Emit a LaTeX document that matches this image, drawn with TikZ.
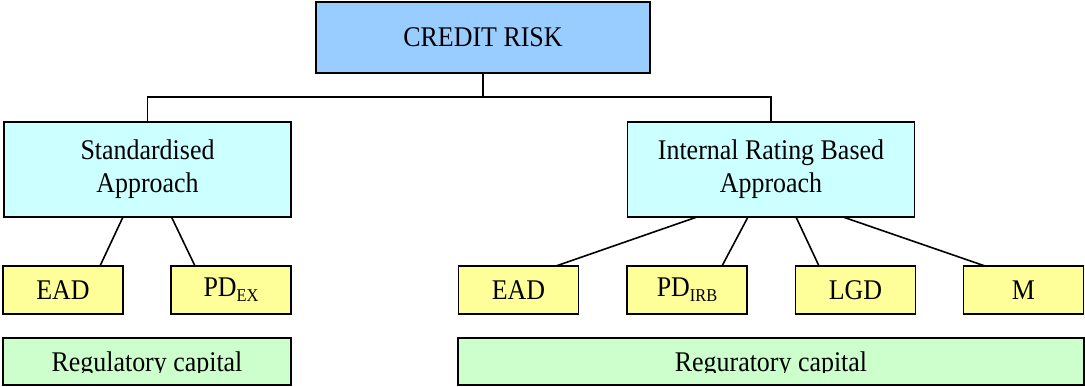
\documentclass[tikz,border=0pt]{standalone}
\usepackage{fontspec}
\setmainfont{Liberation Serif}[FakeStretch=0.91]
\definecolor{topblue}{HTML}{99CCFF}
\definecolor{midcyan}{HTML}{CCFFFF}
\definecolor{leafyellow}{HTML}{FFFF99}
\definecolor{capgreen}{HTML}{CCFFCC}
\newcommand{\subtxt}[1]{\raisebox{-0.18em}{\fontsize{18}{18}\selectfont #1}}
\begin{document}
\begin{tikzpicture}[x=1pt,y=-1pt,
  box/.style={draw=black,line width=1.7pt,inner sep=0pt,outer sep=0pt,align=center,
    font=\fontsize{28.5}{33}\selectfont},
  topbox/.style={box,fill=topblue,minimum width=334pt,minimum height=71pt},
  midbox/.style={box,fill=midcyan,minimum width=287pt,minimum height=95pt},
  leafbox/.style={box,fill=leafyellow,minimum width=120pt,minimum height=48pt},
  capbox/.style={box,fill=capgreen,minimum height=47pt},
  captext/.style={inner sep=0pt,anchor=base,font=\fontsize{28.5}{33}\selectfont},
  link/.style={draw=black,line width=1.6pt}]
\useasboundingbox (0,0) rectangle (1085,387);

\node[topbox] (risk) at (483,37.5) {CREDIT RISK};
\node[midbox] (std) at (147.5,169.5) {Standardised\\Approach};
\node[midbox] (irb) at (771,169.5) {Internal Rating Based\\Approach};

\node[leafbox] (eadL) at (63,290) {EAD};
\node[leafbox] (pdex) at (231,290) {PD\subtxt{EX}};
\node[leafbox] (eadR) at (518.5,290) {EAD};
\node[leafbox] (pdirb) at (687,290) {PD\subtxt{IRB}};
\node[leafbox] (lgd) at (855.5,290) {LGD};
\node[leafbox] (mat) at (1023.5,290) {M};

\node[capbox,minimum width=288pt] (capL) at (147,361.5) {};
\node[capbox,minimum width=626pt] (capR) at (771,361.5) {};
\begin{scope}
  \clip (5,340) rectangle (289,373);
  \node[captext] (capLt) at (147,371.5) {Regulatory capital};
\end{scope}
\begin{scope}
  \clip (460,340) rectangle (1082,373);
  \node[captext] (capRt) at (771,371.5) {Reguratory capital};
\end{scope}

\draw[link] (risk.south) -- ++(0,24) coordinate (hub);
\draw[link] (std.north) |- (hub) -| (irb.north);

\draw[link] ([xshift=-24.5pt]std.south) -- ([xshift=37pt]eadL.north);
\draw[link] ([xshift=24pt]std.south) -- ([xshift=-36pt]pdex.north);

\draw[link] ([xshift=-74pt]irb.south) -- ([xshift=37.5pt]eadR.north);
\draw[link] ([xshift=-23pt]irb.south) -- ([xshift=35pt]pdirb.north);
\draw[link] ([xshift=25pt]irb.south) -- ([xshift=-36.5pt]lgd.north);
\draw[link] ([xshift=72pt]irb.south) -- ([xshift=-38.5pt]mat.north);
\end{tikzpicture}
\end{document}
